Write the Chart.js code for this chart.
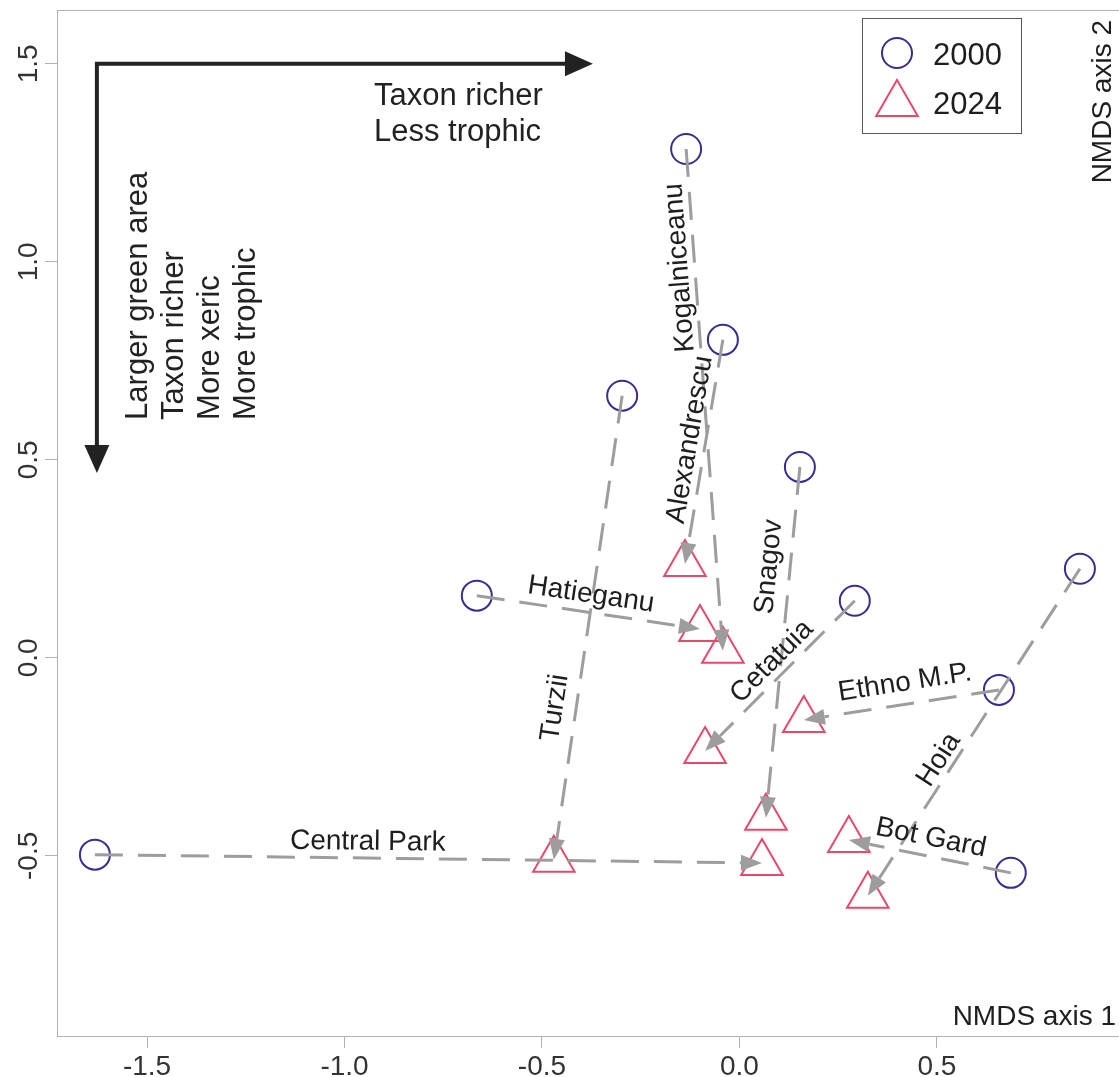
<!DOCTYPE html>
<html>
<head>
<meta charset="utf-8">
<script src="https://cdn.jsdelivr.net/npm/chart.js@4"></script>
<style>
  html, body { margin: 0; padding: 0; background: #fff; }
  canvas { display: block; }
</style>
</head>
<body>
<canvas id="nmdsChart" width="1119" height="1077"></canvas>
<script>
// sites and NMDS scores
const sites = ["Central Park", "Turzii", "Kogalniceanu", "Alexandrescu", "Snagov",
               "Hatieganu", "Cetatuia", "Ethno M.P.", "Hoia", "Bot Gard"];
const x2000 = [-1.632, -0.297, -0.135, -0.042, 0.153, -0.665, 0.292, 0.657, 0.862, 0.687];
const y2000 = [-0.497, 0.662, 1.285, 0.803, 0.482, 0.157, 0.144, -0.081, 0.225, -0.543];
const x2024 = [0.057, -0.470, -0.042, -0.138, 0.067, -0.100, -0.087, 0.163, 0.325, 0.277];
const y2024 = [-0.518, -0.510, 0.018, 0.237, -0.404, 0.073, -0.235, -0.157, -0.601, -0.460];

// where the site names sit (data units)
const labelX = [-0.941, -0.467, -0.151, -0.125, 0.075, -0.376, 0.082, 0.419, 0.505, 0.485];
const labelY = [-0.465, -0.126, 0.985, 0.551, 0.230, 0.159, -0.010, -0.063, -0.258, -0.455];

const years = ["2000", "2024"];
const xTicks = [-1.5, -1.0, -0.5, 0.0, 0.5];
const yTicks = [-0.5, 0.0, 0.5, 1.0, 1.5];

// interpretation arrows (corner at origin, then x end, y end)
const guideOrigin = [-1.627, 1.5];
const guideXEnd = -0.371;
const guideYEnd = 0.467;
const guideXText = ["Taxon richer", "Less trophic"];
const guideYText = ["Larger green area", "Taxon richer", "More xeric", "More trophic"];

const FONT = '"Liberation Sans", Arial, sans-serif';
const C2000 = "#3a2d8f";
const C2024 = "#e54a6b";
const ARROW = "#9d9d9d";
const FRAME = "#b0b0b0";

function arrowHead(ctx, x1, y1, x2, y2, len, half) {
  const a = Math.atan2(y2 - y1, x2 - x1);
  ctx.beginPath();
  ctx.moveTo(x2, y2);
  ctx.lineTo(x2 - len * Math.cos(a) + half * Math.sin(a), y2 - len * Math.sin(a) - half * Math.cos(a));
  ctx.lineTo(x2 - len * Math.cos(a) - half * Math.sin(a), y2 - len * Math.sin(a) + half * Math.cos(a));
  ctx.closePath();
  ctx.fill();
}

const framePlugin = {
  id: "frame",
  beforeDatasetsDraw(chart) {
    const { ctx, chartArea: { top, bottom, left, right } } = chart;
    ctx.save();
    ctx.strokeStyle = FRAME;
    ctx.lineWidth = 1;
    ctx.strokeRect(left + 0.5, top + 0.5, right - left + 10, bottom - top);
    ctx.restore();
  },
};

const overlayPlugin = {
  id: "overlay",
  afterDatasetsDraw(chart) {
    const { ctx, chartArea: { top, bottom, left, right }, scales: { x, y } } = chart;
    ctx.save();

    // change arrows 2000 -> 2024
    sites.forEach((name, i) => {
      const px1 = x.getPixelForValue(x2000[i]);
      const py1 = y.getPixelForValue(y2000[i]);
      const px2 = x.getPixelForValue(x2024[i]);
      const py2 = y.getPixelForValue(y2024[i]);
      const a = Math.atan2(py2 - py1, px2 - px1);
      const headLen = 21;
      ctx.strokeStyle = ARROW;
      ctx.fillStyle = ARROW;
      ctx.lineWidth = 3;
      ctx.setLineDash([28, 15]);
      ctx.beginPath();
      ctx.moveTo(px1, py1);
      ctx.lineTo(px2 - headLen * Math.cos(a), py2 - headLen * Math.sin(a));
      ctx.stroke();
      ctx.setLineDash([]);
      arrowHead(ctx, px1, py1, px2, py2, headLen, 8);

      // site label along the arrow
      let ang = a;
      while (ang > Math.PI / 4) ang -= Math.PI;
      while (ang <= -3 * Math.PI / 4) ang += Math.PI;
      ctx.save();
      ctx.translate(x.getPixelForValue(labelX[i]), y.getPixelForValue(labelY[i]));
      ctx.rotate(ang);
      ctx.fillStyle = "#1e1e1e";
      ctx.font = "28px " + FONT;
      ctx.textAlign = "center";
      ctx.textBaseline = "middle";
      ctx.fillText(name, 0, 0);
      ctx.restore();
    });

    // interpretation arrows
    const ox = x.getPixelForValue(guideOrigin[0]);
    const oy = y.getPixelForValue(guideOrigin[1]);
    const ex = x.getPixelForValue(guideXEnd);
    const ey = y.getPixelForValue(guideYEnd);
    ctx.strokeStyle = "#222";
    ctx.fillStyle = "#222";
    ctx.lineWidth = 4;
    ctx.lineCap = "butt";
    ctx.beginPath();
    ctx.moveTo(ex - 26, oy);
    ctx.lineTo(ox, oy);
    ctx.lineTo(ox, ey - 26);
    ctx.stroke();
    arrowHead(ctx, ox, oy, ex, oy, 28, 12.5);
    arrowHead(ctx, ox, oy, ox, ey, 28, 12.5);

    ctx.font = "31px " + FONT;
    ctx.textAlign = "left";
    ctx.textBaseline = "alphabetic";
    ctx.fillStyle = "#222";
    guideXText.forEach((t, k) => ctx.fillText(t, ex - 219, oy + 41 + k * 36));
    guideYText.forEach((t, k) => {
      ctx.save();
      ctx.translate(ox + 42 + k * 36, ey - 53);
      ctx.rotate(-Math.PI / 2);
      ctx.textBaseline = "middle";
      ctx.fillText(t, 0, 0);
      ctx.restore();
    });

    // legend
    const lx = left + 805, ly = top + 8;
    ctx.strokeStyle = "#555";
    ctx.lineWidth = 1;
    ctx.strokeRect(lx + 0.5, ly + 0.5, 159, 115);
    ctx.lineWidth = 2;
    ctx.strokeStyle = C2000;
    ctx.beginPath();
    ctx.arc(lx + 35, ly + 35, 15, 0, Math.PI * 2);
    ctx.stroke();
    ctx.strokeStyle = C2024;
    const tr = 24, tcx = lx + 35, tcy = ly + 86;
    ctx.beginPath();
    ctx.moveTo(tcx, tcy - tr);
    ctx.lineTo(tcx + tr * 0.866, tcy + tr * 0.5);
    ctx.lineTo(tcx - tr * 0.866, tcy + tr * 0.5);
    ctx.closePath();
    ctx.stroke();
    ctx.fillStyle = "#1e1e1e";
    ctx.font = "31px " + FONT;
    ctx.textAlign = "left";
    ctx.textBaseline = "alphabetic";
    ctx.fillText(years[0], lx + 71, ly + 47);
    ctx.fillText(years[1], lx + 71, ly + 96);

    // axis titles inside the frame
    ctx.font = "28px " + FONT;
    ctx.textAlign = "right";
    ctx.textBaseline = "middle";
    ctx.fillText("NMDS axis 1", right - 3, bottom - 19);
    ctx.save();
    ctx.translate(right - 16, top + 10);
    ctx.rotate(-Math.PI / 2);
    ctx.fillText("NMDS axis 2", 0, 0);
    ctx.restore();

    // tick labels
    ctx.fillStyle = "#333";
    ctx.font = "28px " + FONT;
    ctx.textAlign = "center";
    ctx.textBaseline = "middle";
    xTicks.forEach((v) => ctx.fillText(v.toFixed(1), x.getPixelForValue(v), bottom + 31));
    yTicks.forEach((v) => {
      ctx.save();
      ctx.translate(left - 28, y.getPixelForValue(v));
      ctx.rotate(-Math.PI / 2);
      ctx.fillText(v.toFixed(1), 0, 0);
      ctx.restore();
    });

    ctx.restore();
  },
};

const toPoints = (xs, ys) => xs.map((v, i) => ({ x: v, y: ys[i] }));

new Chart(document.getElementById("nmdsChart"), {
  type: "scatter",
  data: {
    datasets: [
      {
        label: years[0],
        data: toPoints(x2000, y2000),
        pointStyle: "circle",
        pointRadius: 15,
        borderWidth: 2,
        borderColor: C2000,
        backgroundColor: "rgba(0,0,0,0)",
      },
      {
        label: years[1],
        data: toPoints(x2024, y2024),
        pointStyle: "triangle",
        pointRadius: 24,
        borderWidth: 2,
        borderColor: C2024,
        backgroundColor: "rgba(0,0,0,0)",
      },
    ],
  },
  options: {
    responsive: false,
    animation: false,
    devicePixelRatio: 1,
    layout: { autoPadding: false, padding: { top: 10, right: 0, left: 0, bottom: 0 } },
    clip: false,
    scales: {
      x: {
        type: "linear",
        min: -1.728,
        max: 0.961,
        afterFit: (s) => { s.height = 41; },
        ticks: { stepSize: 0.5, includeBounds: false, display: false },
        grid: { drawOnChartArea: false, drawTicks: true, tickLength: 12, color: FRAME },
        border: { display: true, color: FRAME },
      },
      y: {
        type: "linear",
        min: -0.955,
        max: 1.636,
        afterFit: (s) => { s.width = 57; },
        ticks: { stepSize: 0.5, includeBounds: false, display: false },
        grid: { drawOnChartArea: false, drawTicks: true, tickLength: 12, color: FRAME },
        border: { display: true, color: FRAME },
      },
    },
    plugins: {
      legend: { display: false },
      tooltip: { enabled: false },
    },
  },
  plugins: [framePlugin, overlayPlugin],
});
</script>
</body>
</html>
